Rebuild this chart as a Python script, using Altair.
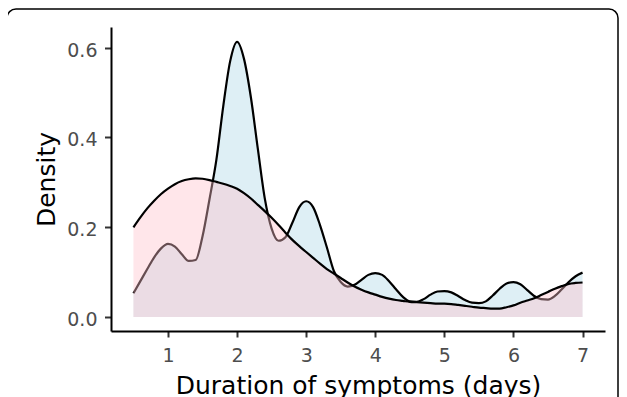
import altair as alt
import pandas as pd

days = [0.5, 0.6, 0.7, 0.8, 0.9, 1.0, 1.1, 1.2, 1.3, 1.4,
        1.5, 1.6, 1.7, 1.8, 1.9, 2.0, 2.1, 2.2, 2.3, 2.4,
        2.5, 2.6, 2.7, 2.8, 2.9, 3.0, 3.1, 3.2, 3.3, 3.4,
        3.5, 3.6, 3.7, 3.8, 3.9, 4.0, 4.1, 4.2, 4.3, 4.4,
        4.5, 4.6, 4.7, 4.8, 4.9, 5.0, 5.1, 5.2, 5.3, 5.4,
        5.5, 5.6, 5.7, 5.8, 5.9, 6.0, 6.1, 6.2, 6.3, 6.4,
        6.5, 6.6, 6.7, 6.8, 6.9, 7.0]

# narrow-bandwidth density (light blue)
density_blue = [0.053, 0.080, 0.107, 0.133, 0.153, 0.163, 0.157, 0.140, 0.125, 0.127,
                0.180, 0.262, 0.350, 0.470, 0.570, 0.613, 0.575, 0.489, 0.375, 0.265,
                0.197, 0.170, 0.178, 0.210, 0.245, 0.258, 0.245, 0.205, 0.155, 0.103,
                0.078, 0.068, 0.072, 0.083, 0.094, 0.098, 0.094, 0.080, 0.062, 0.045,
                0.035, 0.034, 0.040, 0.050, 0.057, 0.058, 0.055, 0.047, 0.038, 0.032,
                0.031, 0.035, 0.048, 0.063, 0.075, 0.078, 0.073, 0.060, 0.047, 0.040,
                0.039, 0.047, 0.062, 0.078, 0.091, 0.099]

# smooth density (pink)
density_pink = [0.200, 0.222, 0.242, 0.259, 0.274, 0.286, 0.296, 0.303, 0.307, 0.309,
                0.308, 0.305, 0.301, 0.297, 0.292, 0.286, 0.276, 0.264, 0.250, 0.236,
                0.221, 0.205, 0.188, 0.172, 0.158, 0.145, 0.132, 0.119, 0.107, 0.097,
                0.087, 0.077, 0.068, 0.061, 0.055, 0.050, 0.045, 0.041, 0.038, 0.036,
                0.034, 0.033, 0.032, 0.031, 0.030, 0.030, 0.029, 0.027, 0.025, 0.023,
                0.021, 0.020, 0.019, 0.019, 0.022, 0.026, 0.032, 0.037, 0.042, 0.049,
                0.056, 0.063, 0.069, 0.074, 0.076, 0.077]

x_ticks = [1, 2, 3, 4, 5, 6, 7]
y_ticks = [0.0, 0.2, 0.4, 0.6]

df_blue = pd.DataFrame({"days": days, "density": density_blue})
df_pink = pd.DataFrame({"days": days, "density": density_pink})

FONT = "DejaVu Sans"

x_scale = alt.Scale(domain=[0.175, 7.325], nice=False, zero=False)
y_scale = alt.Scale(domain=[-0.031, 0.646], nice=False, zero=False)

x_axis = alt.Axis(values=x_ticks, title="Duration of symptoms (days)", grid=False,
                  domainColor="black", domainWidth=2, tickColor="#333333", tickWidth=2,
                  tickSize=6, labelColor="#4D4D4D", labelFont=FONT, labelFontSize=19,
                  labelPadding=9, titleFont=FONT, titleFontSize=25, titleFontWeight="normal",
                  titleColor="black", titleX=247, titleY=62, titleBaseline="alphabetic",
                  titleAlign="center")
y_axis = alt.Axis(values=y_ticks, format=".1f", title="Density", grid=False,
                  domainColor="black", domainWidth=2, tickColor="#333333", tickWidth=2,
                  tickSize=6.5, labelColor="#4D4D4D", labelFont=FONT, labelFontSize=19,
                  labelPadding=7.5, labelOffset=2.5, titleFont=FONT, titleFontSize=25,
                  titleFontWeight="normal", titleColor="black", titleX=-57, titleY=152,
                  titleAngle=270, titleBaseline="alphabetic", titleAlign="center")

x_enc = alt.X("days:Q", scale=x_scale, axis=x_axis)
y_enc = alt.Y("density:Q", scale=y_scale, axis=y_axis)


def area(df, color):
    return alt.Chart(df).mark_area(color=color, opacity=0.4, interpolate="monotone").encode(
        x=x_enc, y=y_enc, y2=alt.datum(0))


def line(df):
    return alt.Chart(df).mark_line(color="black", strokeWidth=2.2, interpolate="monotone").encode(
        x=x_enc, y=y_enc)


frame = alt.Chart(pd.DataFrame({"k": [0]})).mark_rect(
    fill="white", fillOpacity=0, stroke="black", strokeWidth=1.5, cornerRadius=9
).encode(x=alt.value(-104), x2=alt.value(507), y=alt.value(-18), y2=alt.value(480))

chart = alt.layer(
    frame,
    area(df_blue, "#ADD8E6"),
    line(df_blue),
    area(df_pink, "#FFC0CB"),
    line(df_pink),
).properties(
    width=494, height=304,
    padding={"left": 103, "top": 19, "right": 14, "bottom": 66},
    autosize=alt.AutoSizeParams(type="none"),
    background="white",
).configure_view(strokeOpacity=0)

chart.save("out.html", embed_options={"renderer": "svg", "actions": False})
